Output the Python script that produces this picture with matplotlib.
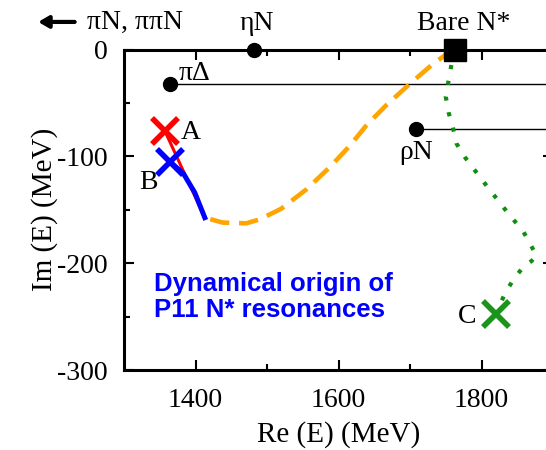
import matplotlib
matplotlib.use("Agg")
import matplotlib.pyplot as plt

plt.rcParams['font.family'] = ['Liberation Serif', 'DejaVu Serif']
plt.rcParams['lines.scale_dashes'] = False

# ---- data ----
thresh_names = ["πΔ", "ηN", "ρN"]
thresh_re = [1365, 1482, 1708]
thresh_im = [-32, 0, -74]

bare_re, bare_im = 1763, 0

pole_names = ["A", "B", "C"]
pole_re = [1357, 1364, 1820]
pole_im = [-76, -105, -248]

orange_re = [1763, 1749, 1733, 1700, 1667, 1639, 1616, 1588, 1555, 1520, 1490, 1471, 1438, 1413]
orange_im = [0, -5.4, -13, -32, -52, -71, -90, -110, -131, -149, -159, -162.7, -162, -157.4]

green_re = [1763, 1758, 1754, 1750, 1754, 1760, 1765, 1777, 1803, 1831, 1859, 1877, 1870, 1859, 1845, 1833, 1820]
green_im = [0, -14, -29, -44, -59, -73, -88, -101, -124, -148, -171, -193, -198, -203, -215, -228, -248]

red_re = [1357, 1385, 1413]
red_im = [-76, -116.7, -157.4]

blue_re = [1364, 1383, 1399, 1413]
blue_im = [-105, -116, -134, -157.4]

xticks = [1400, 1600, 1800]
yticks = [0, -100, -200, -300]

# ---- figure ----
fig = plt.figure(figsize=(5.46, 4.5), dpi=100)
ax = fig.add_axes([124/546, 1-370/450, (553-124)/546, (370-49.5)/450])
ax.set_xlim(1300, 1900)
ax.set_ylim(-300, 0)

# threshold lines
for r, i in zip(thresh_re, thresh_im):
    ax.plot([r, 1900], [i, i], color='black', lw=1.0, zorder=2, clip_on=False)
ax.plot(thresh_re, thresh_im, 'o', color='black', ms=10, zorder=6, clip_on=False)

# trajectories
ax.plot(orange_re, orange_im, color='#FFA500', lw=3.3, dashes=(14, 7), zorder=3, dash_capstyle='butt')
ax.plot(green_re, green_im, color='#0f8f0f', lw=3.0, linestyle=(0, (3, 8.5)), zorder=3, dash_capstyle='butt')
ax.plot(red_re, red_im, color='#FF0000', lw=2.2, zorder=4)
ax.plot(blue_re, blue_im, color='#0000FF', lw=3.6, zorder=5)

# poles
pole_colors = ['#FF0000', '#0000FF', '#1a941a']
for r, i, c in zip(pole_re, pole_im, pole_colors):
    ax.plot([r], [i], 'x', color=c, ms=19, mew=4, zorder=7)

ax.plot([bare_re], [bare_im], 's', color='black', ms=15.5, zorder=8, clip_on=False)

fs = 20
# threshold labels
ax.annotate(thresh_names[0], (thresh_re[0], thresh_im[0]), xytext=(6, 7), textcoords='offset points',
            ha='left', va='center', fontsize=fs, annotation_clip=False)
ax.annotate(thresh_names[1], (thresh_re[1], thresh_im[1]), xytext=(2, 19), textcoords='offset points',
            ha='center', va='center', fontsize=fs, annotation_clip=False)
ax.annotate(thresh_names[2], (thresh_re[2], thresh_im[2]), xytext=(0, -17), textcoords='offset points',
            ha='center', va='center', fontsize=fs, annotation_clip=False)
ax.annotate("Bare N*", (bare_re, bare_im), xytext=(6, 19), textcoords='offset points',
            ha='center', va='center', fontsize=fs, annotation_clip=False)

# pole labels
offs = [(18.5, -1), (-15, -15), (-21, -1.5)]
for n, r, i, o in zip(pole_names, pole_re, pole_im, offs):
    ax.annotate(n, (r, i), xytext=o, textcoords='offset points', ha='center', va='center', fontsize=fs)

# pi N label with arrow
ax.text(0.1375, 1.086, "πN, ππN", transform=ax.transAxes, ha='right', va='center', fontsize=fs, clip_on=False)
ax.annotate("", xy=(-0.2, 1.086), xytext=(-0.115, 1.086), xycoords='axes fraction', textcoords='axes fraction',
            arrowprops=dict(arrowstyle='-|>,head_length=0.6,head_width=0.35', color='black', lw=3,
                            shrinkA=0, shrinkB=0), annotation_clip=False)

ax.text(0.07, 0.305, "Dynamical origin of\nP11 N* resonances", transform=ax.transAxes,
        ha='left', va='top', fontsize=18.5, fontweight='bold', color='#0000FF',
        linespacing=1.1, family=['Liberation Sans', 'DejaVu Sans'])

# axes styling
ax.set_xticks(xticks)
ax.set_yticks(yticks)
ax.set_xticks([1500, 1700], minor=True)
ax.set_yticks([-50, -150, -250], minor=True)
ax.set_xticklabels([str(t) for t in xticks])
ax.set_yticklabels([str(t) for t in yticks])
ax.tick_params(which='both', direction='in', top=True, right=True, width=1.5, labelsize=fs)
ax.tick_params(which='major', length=7.5)
ax.tick_params(which='minor', length=4.5)
ax.tick_params(axis='x', pad=13)
ax.tick_params(axis='y', pad=12)
for s in ax.spines.values():
    s.set_linewidth(2.2)

ax.set_xlabel("Re (E) (MeV)", fontsize=21)
ax.set_ylabel("Im (E) (MeV)", fontsize=21)
ax.xaxis.set_label_coords(0.5, -0.16)
ax.yaxis.set_label_coords(-0.155, 0.5)

fig.savefig("out.png", dpi=100)
